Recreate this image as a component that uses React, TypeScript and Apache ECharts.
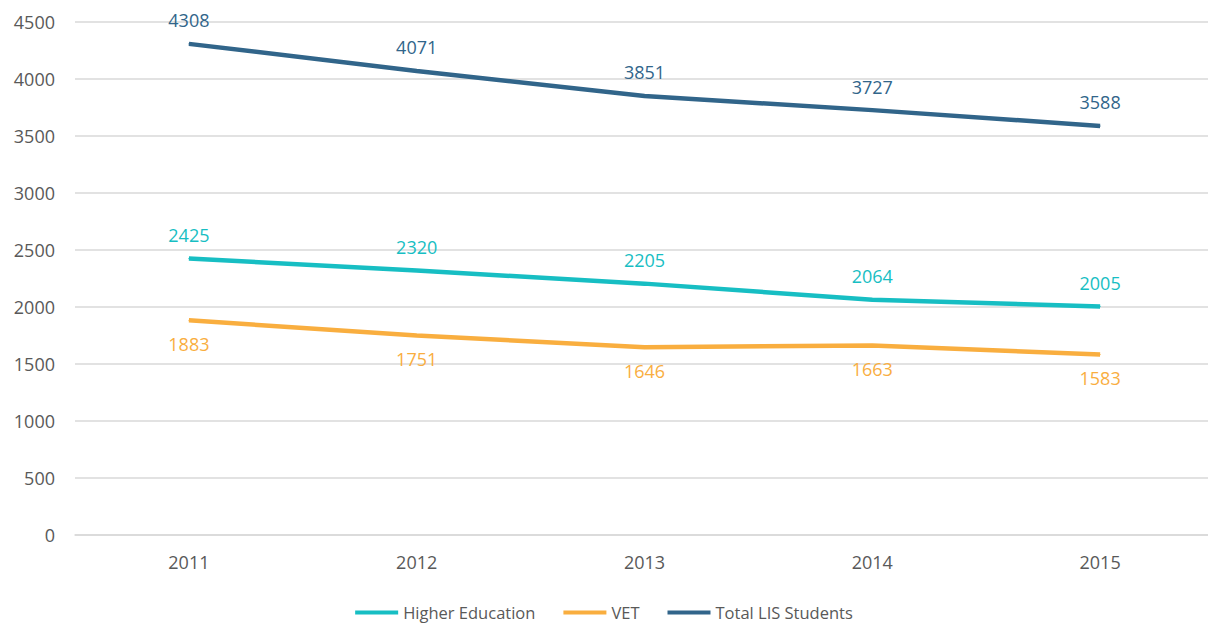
import React, { useEffect, useRef } from "react";
import * as echarts from "echarts";

const years = ["2011", "2012", "2013", "2014", "2015"];
const higherEducation = [2425, 2320, 2205, 2064, 2005];
const vet = [1883, 1751, 1646, 1663, 1583];
const totalLIS = [4308, 4071, 3851, 3727, 3588];

const FONT = "'Open Sans', 'Noto Sans', sans-serif";
const C_HE = "#17BEC3";
const C_VET = "#F9AE3F";
const C_TOT = "#31658A";

export default function App() {
  const ref = useRef<HTMLDivElement>(null);
  useEffect(() => {
    if (!ref.current) return;
    const chart = echarts.init(ref.current, null, { renderer: "svg" });
    const mk = (name: string, data: number[], color: string, pos: string) => ({
      name,
      type: "line",
      data,
      symbol: "circle",
      symbolSize: 1,
      showSymbol: true,
      lineStyle: { color, width: 4.5 },
      itemStyle: { color },
      label: {
        show: true,
        position: pos,
        distance: 14,
        color,
        fontFamily: FONT,
        fontSize: 18,
      },
    });
    chart.setOption({
      animation: false,
      textStyle: { fontFamily: FONT },
      grid: {
        left: 75,
        width: 1139,
        top: 22,
        bottom: 90,
        containLabel: false,
        outerBoundsMode: "none",
      },
      xAxis: {
        type: "category",
        data: years,
        boundaryGap: true,
        axisLine: { show: true, lineStyle: { color: "#D9D9D9", width: 1.5 } },
        axisTick: { show: false },
        axisLabel: { color: "#595959", fontSize: 18, fontFamily: FONT, margin: 18 },
      },
      yAxis: {
        type: "value",
        min: 0,
        max: 4500,
        interval: 500,
        axisLine: { show: false },
        axisTick: { show: false },
        axisLabel: {
          color: "#595959",
          fontSize: 18,
          fontFamily: FONT,
          margin: 20,
          formatter: (v: number) => String(v),
        },
        splitLine: { lineStyle: { color: "#D9D9D9", width: 1.5 } },
      },
      legend: {
        top: 599,
        left: "center",
        itemWidth: 43,
        itemHeight: 4,
        itemGap: 28,
        icon: "rect",
        textStyle: { color: "#595959", fontSize: 16.5, fontFamily: FONT },
        data: ["Higher Education", "VET", "Total LIS Students"],
      },
      series: [
        mk("Higher Education", higherEducation, C_HE, "top"),
        mk("VET", vet, C_VET, "bottom"),
        mk("Total LIS Students", totalLIS, C_TOT, "top"),
      ],
    });
    return () => chart.dispose();
  }, []);
  return (
    <div
      ref={ref}
      style={{ position: "fixed", left: 0, top: 0, width: 1208, height: 625, background: "#fff" }}
    />
  );
}
